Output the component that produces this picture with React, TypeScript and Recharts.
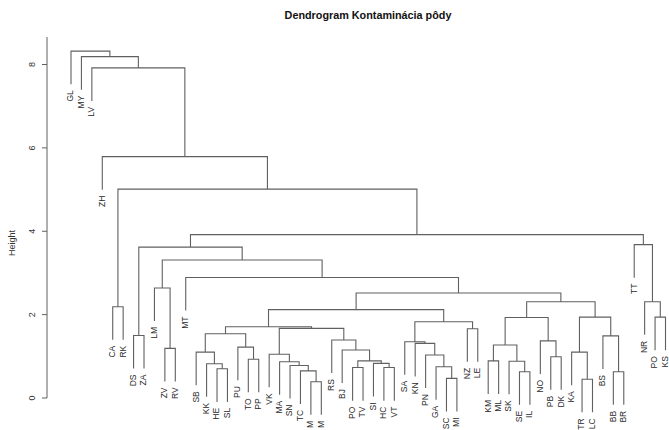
import React from 'react';
import { ComposedChart, Line, Scatter, XAxis, YAxis, ReferenceLine, Label } from 'recharts';

const chartTitle = 'Dendrogram Kontaminácia pôdy';
const yAxisTitle = 'Height';

// leaves in plotted order (left to right)
const leafLabels = [
  'GL', 'MY', 'LV', 'ZH', 'CA', 'RK', 'DS', 'ZA', 'LM', 'ZV', 'RV', 'MT',
  'SB', 'KK', 'HE', 'SL', 'PU', 'TO', 'PP', 'VK', 'MA', 'SN', 'TC', 'M', 'M',
  'RS', 'BJ', 'PO', 'TV', 'SI', 'HC', 'VT', 'SA', 'KN', 'PN', 'GA', 'SC', 'MI',
  'NZ', 'LE', 'KM', 'ML', 'SK', 'SE', 'IL', 'NO', 'PB', 'DK', 'KA', 'TR', 'LC',
  'BS', 'BB', 'BR', 'TT', 'NR', 'PO', 'KS',
];

// hclust-style merge table: negative = leaf (1-based position), positive = earlier merge (1-based)
const mergeLeft = [
  -24, -23, -22, -21, -20, -15, -14, -13, -18, -17, 8, -28, -31, -30, 12, -27, -26, 5, 11,
  -37, -36, -35, -34, -33, -39, 24, 19, -41, -44, -43, 28, -47, -46, 31, -50, -49, -53, -52,
  36, 34, 27, -12, -10, -9, 44, -7, 46, -57, -56, -55, 47, -5, 52, -4, -3, -2, -1,
];
const mergeRight = [
  -25, 1, 2, 3, 4, -16, 6, 7, -19, 9, 10, -29, -32, 13, 14, 15, 16, 17, 18,
  -38, 20, 21, 22, 23, -40, 25, 26, -42, -45, 29, 30, -48, 32, 33, -51, 35, -54, 37,
  38, 39, 40, 41, -11, 43, 42, -8, 45, -58, 48, 49, 50, -6, 51, 53, 54, 55, 56,
];
const mergeHeight = [
  0.39, 0.65, 0.78, 0.87, 1.05, 0.70, 0.82, 1.10, 0.93, 1.22, 1.54, 0.73, 0.73, 0.83, 0.89, 1.15, 1.39, 1.67, 1.71,
  0.47, 0.75, 1.03, 1.31, 1.35, 1.66, 1.83, 2.12, 0.89, 0.63, 0.88, 1.27, 0.99, 1.37, 1.93, 0.45, 1.10, 0.63, 1.49,
  1.94, 2.31, 2.52, 2.89, 1.19, 2.64, 3.31, 1.50, 3.62, 1.94, 2.31, 3.68, 3.92, 2.19, 5.01, 5.79, 7.92, 8.19, 8.32,
];

const yTicks = [0, 2, 4, 6, 8];

// ---- layout constants (pixels) ----
const W = 669;
const H = 430;
const AXIS_X = 47;
const PLOT_TOP = 37;
const FIRST_LEAF_PX = 71;
const LAST_LEAF_PX = 665.5;
const ZERO_PX = 398;
const EIGHT_PX = 64.5;

const n = leafLabels.length;
const pxPerLeaf = (LAST_LEAF_PX - FIRST_LEAF_PX) / (n - 1);
const xMin = 1 - (FIRST_LEAF_PX - AXIS_X) / pxPerLeaf;
const xMax = xMin + (W - AXIS_X) / pxPerLeaf;
const pxPerUnit = (ZERO_PX - EIGHT_PX) / 8;
const yMax = (ZERO_PX - PLOT_TOP) / pxPerUnit;
const yMin = -(H - ZERO_PX) / pxPerUnit;

// ---- build dendrogram geometry in data coordinates ----
const maxH = Math.max(...mergeHeight);
const minH = Math.min(...mergeHeight);
const hang = 0.1 * (maxH - minH);

const nodeX: number[] = [];
const segs: { x: number; y: number | null }[] = [];
const leafPoints: { x: number; y: number; label: string }[] = [];

mergeHeight.forEach((h, i) => {
  const kids = [mergeLeft[i], mergeRight[i]];
  const info = kids.map((k) => {
    if (k < 0) {
      const x = -k;
      const y = h - hang;
      leafPoints.push({ x, y, label: leafLabels[x - 1] });
      return { x, top: y };
    }
    return { x: nodeX[k - 1], top: mergeHeight[k - 1] };
  });
  nodeX[i] = (info[0].x + info[1].x) / 2;
  segs.push({ x: info[0].x, y: info[0].top });
  segs.push({ x: info[0].x, y: h });
  segs.push({ x: info[1].x, y: h });
  segs.push({ x: info[1].x, y: info[1].top });
  segs.push({ x: info[1].x, y: null });
});

const FONT = '"Liberation Sans", Arial, Helvetica, sans-serif';
const LINE = '#606060';

const LeafLabel = (props: any) => {
  const { cx, cy, payload } = props;
  if (cx == null || cy == null) return null;
  return (
    <text
      x={cx}
      y={cy}
      dx={-6}
      dy="0.28em"
      transform={`rotate(-90, ${cx}, ${cy})`}
      textAnchor="end"
      fontSize={8.5}
      fontFamily={FONT}
      fill="#2a2a2a"
    >
      {payload.label}
    </text>
  );
};

const YTick = (props: any) => {
  const { x, y, payload } = props;
  const tx = x - 5;
  return (
    <text
      x={tx}
      y={y}
      transform={`rotate(-90, ${tx}, ${y})`}
      textAnchor="middle"
      fontSize={9}
      fontFamily={FONT}
      fill="#333"
    >
      {payload.value}
    </text>
  );
};

export default function App() {
  return (
    <div style={{ position: 'absolute', left: 0, top: 0, width: W, height: H, background: '#fff' }}>
      <div
        style={{
          position: 'absolute',
          left: 0,
          top: 8,
          width: 736,
          textAlign: 'center',
          fontFamily: FONT,
          fontWeight: 'bold',
          fontSize: 10.8,
          lineHeight: '14px',
          color: '#111',
        }}
      >
        {chartTitle}
      </div>
      <ComposedChart
        width={W}
        height={H}
        margin={{ top: PLOT_TOP, right: 0, bottom: 0, left: 0 }}
        style={{ position: 'absolute', left: 0, top: 0 }}
      >
        <XAxis
          type="number"
          dataKey="x"
          domain={[xMin, xMax]}
          allowDataOverflow
          hide
        />
        <YAxis
          type="number"
          dataKey="y"
          domain={[yMin, yMax]}
          allowDataOverflow
          width={AXIS_X}
          ticks={yTicks}
          axisLine={false}
          tickLine={{ stroke: LINE }}
          tickSize={5}
          tickMargin={2}
          tick={<YTick />}
        >
          <Label
            content={() => (
              <text
                x={15}
                y={243}
                transform="rotate(-90, 15, 243)"
                textAnchor="middle"
                fontSize={9}
                fontFamily={FONT}
                fill="#333"
              >
                {yAxisTitle}
              </text>
            )}
          />
        </YAxis>
        <ReferenceLine
          segment={[{ x: xMin, y: 0 }, { x: xMin, y: yMax }]}
          stroke={LINE}
          ifOverflow="visible"
        />
        <Line
          data={segs}
          dataKey="y"
          type="linear"
          stroke={LINE}
          strokeWidth={1.1}
          dot={false}
          activeDot={false}
          connectNulls={false}
          isAnimationActive={false}
        />
        <Scatter
          data={leafPoints}
          dataKey="y"
          shape={<LeafLabel />}
          isAnimationActive={false}
        />
      </ComposedChart>
    </div>
  );
}
